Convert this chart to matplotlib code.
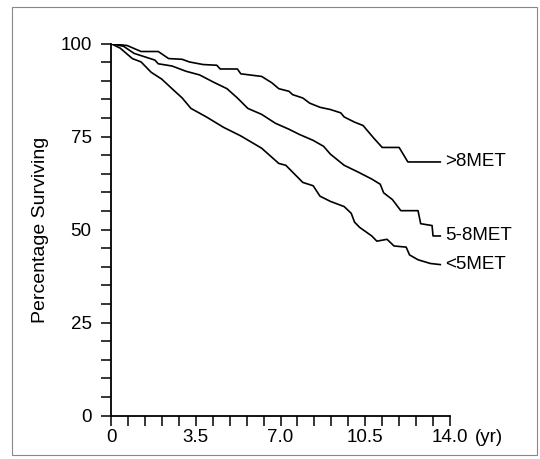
import numpy as np
import matplotlib.pyplot as plt
from matplotlib.patches import Rectangle

# survival curves (years, % surviving)
t_hi = [0, 0.67, 1.24, 1.95, 2.38, 2.94, 3.23, 3.8, 4.37, 4.51, 5.22, 5.36, 6.22, 6.64, 6.93,
        7.35, 7.5, 7.92, 8.21, 8.63, 9.06, 9.49, 9.63, 10.06, 10.41, 10.84, 11.2, 11.9, 12.26, 13.6]
s_hi = [100, 99.5, 97.9, 97.9, 96.0, 95.8, 95.1, 94.4, 94.2, 93.2, 93.2, 91.9, 91.2, 89.5, 87.9,
        87.2, 86.3, 85.4, 84.0, 82.9, 82.3, 81.4, 80.3, 78.9, 78.0, 74.7, 72.1, 72.1, 68.2, 68.2]

t_mid = [0, 0.52, 0.95, 1.38, 1.81, 1.95, 2.52, 3.09, 3.66, 4.22, 4.79, 5.22, 5.65, 6.22, 6.79,
         7.35, 7.78, 8.35, 8.78, 9.06, 9.63, 10.2, 10.77, 11.12, 11.26, 11.62, 11.97, 12.68, 12.79,
         13.26, 13.3, 13.6]
s_mid = [100, 99.3, 97.4, 96.5, 95.6, 94.6, 94.0, 92.6, 91.6, 89.7, 87.9, 85.4, 82.6, 81.0, 78.6,
         77.0, 75.6, 74.0, 72.4, 70.3, 67.3, 65.5, 63.6, 62.2, 59.9, 58.1, 55.1, 55.1, 51.6,
         51.1, 48.3, 48.3]

t_lo = [0, 0.38, 0.88, 1.24, 1.66, 2.09, 2.52, 2.94, 3.3, 3.94, 4.65, 5.36, 6.22, 6.93, 7.22,
        7.92, 8.35, 8.63, 9.06, 9.63, 9.92, 10.06, 10.27, 10.77, 10.98, 11.4, 11.69, 12.19, 12.33,
        12.68, 13.19, 13.6]
s_lo = [100, 98.8, 96.0, 95.1, 92.3, 90.5, 87.9, 85.4, 82.6, 80.3, 77.5, 75.2, 71.9, 67.8, 67.3,
        62.7, 61.8, 59.0, 57.6, 56.2, 54.4, 52.0, 50.6, 48.3, 46.9, 47.4, 45.6, 45.3, 43.2,
        41.9, 40.9, 40.6]

labels = ['>8MET', '5-8MET', '<5MET']
xtick_vals = [0, 3.5, 7.0, 10.5, 14.0]
xtick_labels = ['0', '3.5', '7.0', '10.5', '14.0']
ytick_vals = [0, 25, 50, 75, 100]

plt.rcParams['font.family'] = ['Liberation Sans', 'DejaVu Sans']

fig = plt.figure(figsize=(5.4, 4.59), dpi=100)
ax = fig.add_axes([0.2056, 0.0946, 0.6277, 0.8102])

for t, s, lab in zip([t_hi, t_mid, t_lo], [s_hi, s_mid, s_lo], labels):
    ax.plot(t, s, color='black', lw=1.2)
    ax.text(t[-1] + 0.2, s[-1], lab, fontsize=13.5, va='center', ha='left')

ax.set_xlim(0, 14)
ax.set_ylim(0, 100)
ax.spines['top'].set_visible(False)
ax.spines['right'].set_visible(False)
ax.spines['left'].set_linewidth(1.3)
ax.spines['bottom'].set_linewidth(1.3)

xt = np.round(np.arange(0, 14.01, 0.7), 1)
ax.set_xticks(xt)
ax.set_xticklabels([xtick_labels[xtick_vals.index(v)] if v in xtick_vals else '' for v in xt])
ax.set_yticks(np.arange(0, 101, 5))
ax.set_yticklabels([str(v) if v in ytick_vals else '' for v in range(0, 101, 5)])
ax.tick_params(direction='out', length=7, width=1.1, labelsize=13.5, pad=3)
ax.tick_params(axis='y', pad=7)
ax.annotate('(yr)', xy=(14, 0), xycoords='data', xytext=(18, -10), textcoords='offset points',
            fontsize=13.5, ha='left', va='top')

ax.set_ylabel('Percentage Surviving', fontsize=14, labelpad=8)

fig.patches.append(Rectangle((12 / 540, 4 / 459), 525 / 540, 448 / 459, transform=fig.transFigure,
                             fill=False, edgecolor='#888888', lw=0.8))

fig.savefig('out.png', dpi=100)
